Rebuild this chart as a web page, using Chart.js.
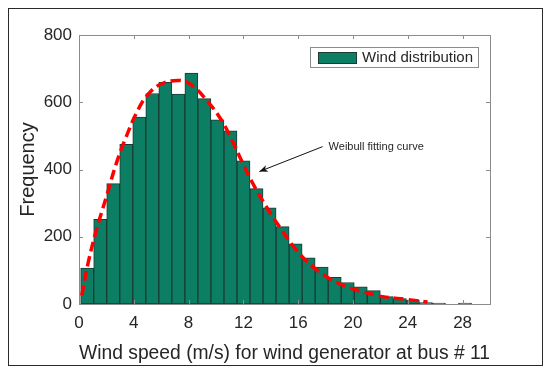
<!DOCTYPE html>
<html>
<head>
<meta charset="utf-8">
<script src="https://cdn.jsdelivr.net/npm/chart.js@4/dist/chart.umd.min.js"></script>
<style>
  html, body { margin: 0; padding: 0; background: #fff; }
  #wrap { width: 550px; height: 370px; }
</style>
</head>
<body>
<div id="wrap"><canvas id="windChart" width="550" height="370"></canvas></div>
<script>
// histogram bins (centre of each bin, m/s) and counts
const binCenters = [0.596, 1.547, 2.498, 3.449, 4.400, 5.351, 6.302, 7.253, 8.204, 9.155,
                    10.106, 11.057, 12.008, 12.959, 13.910, 14.861, 15.812, 16.763, 17.714, 18.665,
                    19.616, 20.567, 21.518, 22.469, 23.420, 24.371, 25.322, 26.273, 27.224, 28.175];
const binCounts = [107, 252, 358, 475, 556, 626, 659, 624, 687, 611,
                   548, 515, 426, 343, 286, 230, 179, 137, 110, 79,
                   64, 51, 40, 22, 16, 12, 4, 3, 0, 3];

// Weibull fitting curve
const fitSpeed = [0.2, 0.66, 1.27, 2.0, 2.73, 3.45, 4.18, 4.91, 5.88, 7.2, 8.19, 9.4, 10.38,
                  11.1, 11.95, 12.68, 13.66, 14.63, 15.85, 17.06, 18.27, 19.49, 20.7, 22.16, 23.86, 25.44];
const fitFreq = [25, 121, 220, 319, 419, 498, 567, 617, 652, 665, 652, 602, 548,
                 493, 419, 359, 290, 230, 161, 111, 76, 52, 37, 22, 14, 6];

const xTicks = { min: 0, max: 30, step: 4 };
const yTicks = { min: 0, max: 800, step: 200 };

// annotation anchor points (data units)
const arrowTip = { x: 13.17, y: 394 };
const arrowTail = { x: 17.78, y: 468 };
const noteText = 'Weibull fitting curve';
const legendText = 'Wind distribution';

const barColor = '#0b7e64';
const textColor = '#262626';

const extras = {
  id: 'extras',
  afterDraw(chart) {
    const { ctx, chartArea: a, scales: { x, y } } = chart;
    ctx.save();

    // axes box + inward ticks on all sides
    ctx.strokeStyle = '#8c8c8c';
    ctx.lineWidth = 1;
    ctx.strokeRect(a.left + 0.5, a.top + 0.5, a.right - a.left, a.bottom - a.top);
    ctx.beginPath();
    x.ticks.forEach(t => {
      const px = Math.round(x.getPixelForValue(t.value)) + 0.5;
      ctx.moveTo(px, a.bottom); ctx.lineTo(px, a.bottom - 4);
      ctx.moveTo(px, a.top); ctx.lineTo(px, a.top + 4);
    });
    y.ticks.forEach(t => {
      const py = Math.round(y.getPixelForValue(t.value)) + 0.5;
      ctx.moveTo(a.left, py); ctx.lineTo(a.left + 4, py);
      ctx.moveTo(a.right, py); ctx.lineTo(a.right - 4, py);
    });
    ctx.stroke();

    // outer figure frame
    ctx.strokeStyle = '#2a2a2a';
    ctx.strokeRect(8.5, 8.5, 534, 357);

    // legend box
    ctx.font = '15px "Liberation Sans", Arial, sans-serif';
    const tw = ctx.measureText(legendText).width;
    const bw = 52 + tw + 5, bh = 20;
    const bx = a.right - 12 - bw, by = a.top + 12;
    ctx.fillStyle = '#fff';
    ctx.fillRect(bx, by, bw, bh);
    ctx.strokeStyle = '#8c8c8c';
    ctx.strokeRect(Math.round(bx) + 0.5, by + 0.5, Math.round(bw), bh);
    ctx.fillStyle = barColor;
    ctx.fillRect(bx + 8, by + 5, 38, 11);
    ctx.strokeStyle = '#1c3b33';
    ctx.strokeRect(Math.round(bx + 8) + 0.5, by + 5.5, 38, 11);
    ctx.fillStyle = textColor;
    ctx.textBaseline = 'middle';
    ctx.textAlign = 'left';
    ctx.fillText(legendText, bx + 52, by + bh / 2 + 1);

    // annotation arrow + text
    const tx = x.getPixelForValue(arrowTip.x), ty = y.getPixelForValue(arrowTip.y);
    const sx = x.getPixelForValue(arrowTail.x), sy = y.getPixelForValue(arrowTail.y);
    ctx.strokeStyle = '#111';
    ctx.fillStyle = '#111';
    ctx.lineWidth = 1;
    ctx.beginPath();
    ctx.moveTo(sx, sy); ctx.lineTo(tx, ty);
    ctx.stroke();
    const ang = Math.atan2(ty - sy, tx - sx);
    ctx.beginPath();
    ctx.moveTo(tx, ty);
    ctx.lineTo(tx - 9 * Math.cos(ang - 0.4), ty - 9 * Math.sin(ang - 0.4));
    ctx.lineTo(tx - 6 * Math.cos(ang), ty - 6 * Math.sin(ang));
    ctx.lineTo(tx - 9 * Math.cos(ang + 0.4), ty - 9 * Math.sin(ang + 0.4));
    ctx.closePath();
    ctx.fill();
    ctx.font = '11px "Liberation Sans", Arial, sans-serif';
    ctx.fillStyle = textColor;
    ctx.fillText(noteText, sx + 6, sy);

    ctx.restore();
  }
};

const ctx = document.getElementById('windChart').getContext('2d');
new Chart(ctx, {
  type: 'bar',
  data: {
    datasets: [{
      type: 'line',
      label: 'Weibull fitting curve',
      data: fitSpeed.map((s, i) => ({ x: s, y: fitFreq[i] })),
      borderColor: '#ff0000',
      borderWidth: 3.5,
      borderDash: [10, 5],
      pointRadius: 0,
      tension: 0.4,
      fill: false,
      order: 0
    }, {
      type: 'bar',
      label: 'Wind distribution',
      data: binCenters.map((c, i) => ({ x: c, y: binCounts[i] })),
      backgroundColor: barColor,
      borderColor: '#1c3b33',
      borderWidth: 1,
      borderSkipped: false,
      barPercentage: 1,
      categoryPercentage: 1,
      order: 1
    }]
  },
  options: {
    responsive: false,
    animation: false,
    layout: { padding: { left: 0, right: 60, top: 35, bottom: 0 } },
    plugins: { legend: { display: false }, tooltip: { enabled: false } },
    scales: {
      x: {
        type: 'linear',
        offset: false,
        min: xTicks.min, max: xTicks.max,
        grid: { display: false, drawTicks: false },
        border: { display: false },
        ticks: {
          stepSize: xTicks.step, includeBounds: false, padding: 9,
          color: textColor, font: { family: '"Liberation Sans", Arial, sans-serif', size: 17 },
          maxRotation: 0
        },
        title: {
          display: true, text: 'Wind speed (m/s) for wind generator at bus # 11',
          color: textColor, font: { family: '"Liberation Sans", Arial, sans-serif', size: 20 },
          padding: { top: 0, bottom: 5 }
        },
        afterFit(s) { s.height = 66; }
      },
      y: {
        min: yTicks.min, max: yTicks.max,
        grid: { display: false, drawTicks: false },
        border: { display: false },
        ticks: {
          stepSize: yTicks.step, padding: 7,
          color: textColor, font: { family: '"Liberation Sans", Arial, sans-serif', size: 17 }
        },
        title: {
          display: true, text: 'Frequency',
          color: textColor, font: { family: '"Liberation Sans", Arial, sans-serif', size: 20 },
          padding: { top: 16, bottom: 0 }
        },
        afterFit(s) { s.width = 79; }
      }
    }
  },
  plugins: [extras]
});
</script>
</body>
</html>
